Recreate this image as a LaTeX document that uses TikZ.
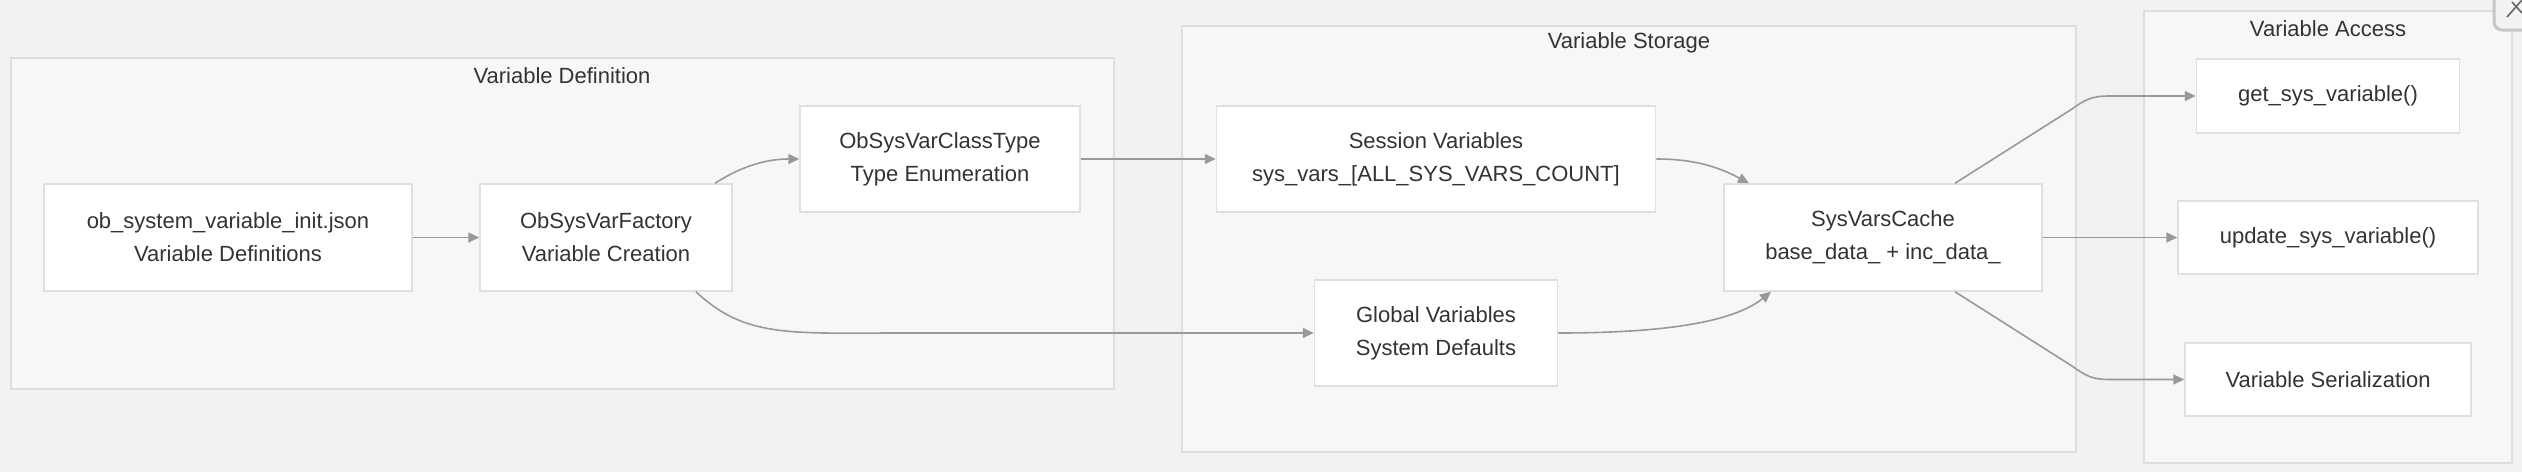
\documentclass[tikz,border=0pt]{standalone}
\usepackage{fontspec}
\setmainfont{Liberation Sans}
\usetikzlibrary{arrows.meta}
\definecolor{bgc}{HTML}{F3F2F1}
\definecolor{clfill}{HTML}{F7F7F7}
\definecolor{clline}{HTML}{DEDEDE}
\definecolor{ndline}{HTML}{E0E0E0}
\definecolor{txt}{HTML}{333333}
\definecolor{arr}{HTML}{999999}
\tikzset{
  box/.style={draw=ndline, line width=1.5pt, fill=white, inner sep=0pt, align=center,
    font=\fontsize{22}{33}\selectfont, text=txt},
  cluster/.style={draw=clline, line width=1.5pt, fill=clfill},
  ctitle/.style={font=\fontsize{22}{33}\selectfont, text=txt, inner sep=0pt},
  conn/.style={draw=arr, line width=1.6pt, -{Triangle[length=11pt,width=10pt]}},
}
\begin{document}
\begin{tikzpicture}[x=1pt,y=-1pt]
\useasboundingbox (0,0) rectangle (2522,472);
\fill[bgc] (0,0) rectangle (2522,472);
% clusters
\path[cluster] (11,58) rectangle (1114,389);
\node[ctitle] (tdef) at (562,76) {Variable Definition};
\path[cluster] (1182,26) rectangle (2076,452);
\node[ctitle] (tsto) at (1629,43) {Variable Storage};
\path[cluster] (2144,11) rectangle (2512,463);
\node[ctitle] (tacc) at (2328,29) {Variable Access};
% nodes
\node[box, minimum width=368pt, minimum height=107pt] (json) at (228,237.5) {ob\_system\_variable\_init.json\\Variable Definitions};
\node[box, minimum width=252pt, minimum height=107pt] (fac) at (606,237.5) {ObSysVarFactory\\Variable Creation};
\node[box, minimum width=280pt, minimum height=106pt] (cls) at (940,159) {ObSysVarClassType\\Type Enumeration};
\node[box, minimum width=439pt, minimum height=106pt] (ses) at (1436,159) {Session Variables\\sys\_vars\_[ALL\_SYS\_VARS\_COUNT]};
\node[box, minimum width=243pt, minimum height=106pt] (glo) at (1436,333) {Global Variables\\System Defaults};
\node[box, minimum width=318pt, minimum height=107pt] (cache) at (1883,237.5) {SysVarsCache\\base\_data\_ + inc\_data\_};
\node[box, minimum width=263pt, minimum height=74pt] (get) at (2328,96) {get\_sys\_variable()};
\node[box, minimum width=300pt, minimum height=73pt] (upd) at (2328,237.5) {update\_sys\_variable()};
\node[box, minimum width=286pt, minimum height=73pt] (ser) at (2328,379.5) {Variable Serialization};
% connectors
\draw[conn] (json.east) -- (fac.west);
\draw[conn] ([xshift=109pt]fac.north) .. controls (745,164) and (770,159) .. (cls.west);
\draw[conn] (cls.east) -- (ses.west);
\draw[conn] ([xshift=90pt]fac.south) .. controls (745,338) and (790,333) .. (900,333) -- (glo.west);
\draw[conn] (ses.east) .. controls (1690,159) and (1715,165) .. ([xshift=-134pt]cache.north);
\draw[conn] (glo.east) .. controls (1650,333) and (1730,325) .. ([xshift=-112pt]cache.south);
\draw[conn] ([xshift=72pt]cache.north) -- (2072,109) .. controls (2086,99) and (2092,96) .. (2110,96) -- (get.west);
\draw[conn] (cache.east) -- (upd.west);
\draw[conn] ([xshift=72pt]cache.south) -- (2072,366) .. controls (2086,376) and (2092,379.5) .. (2110,379.5) -- (ser.west);
% partial close button
\begin{scope}
\clip (0,0) rectangle (2522,472);
\draw[draw=gray!45, line width=3pt, fill=bgc, rounded corners=8pt] (2494,-20) rectangle (2560,30);
\draw[draw=gray!80!black, line width=1.6pt] (2507,17) -- (2522,0);
\draw[draw=gray!80!black, line width=1.6pt] (2512,2) -- (2522,13);
\end{scope}
\end{tikzpicture}
\end{document}
